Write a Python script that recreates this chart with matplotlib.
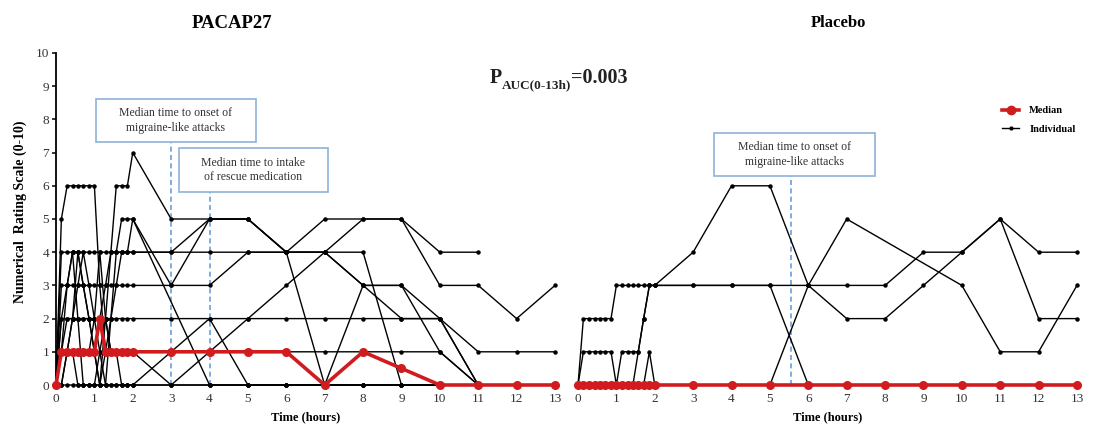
import matplotlib
matplotlib.use('Agg')
import matplotlib.pyplot as plt
from matplotlib.patches import Rectangle
from matplotlib.lines import Line2D

plt.rcParams['font.family'] = ['Liberation Serif', 'DejaVu Serif']

# sampling times (hours): dense during the first 2 h, then hourly
hours = [0, 0.14, 0.29, 0.43, 0.57, 0.71, 0.86, 1, 1.14, 1.29, 1.43, 1.57, 1.71, 1.86,
         2, 3, 4, 5, 6, 7, 8, 9, 10, 11, 12, 13]

# PACAP27 headache scores (None = not recorded)
pacap_median = [0, 1, 1, 1, 1, 1, 1, 1, 2, 1, 1, 1, 1, 1, 1, 1, 1, 1, 1, 0, 1, 0.5, 0, 0, 0, 0]
pacap_a = [0, 0, 0, 0, 0, 0, 0, 0, 0, 2, 4, 6, 6, 6, 7, 5, 5, 5, 4, 0, 3, 3, 1, 0, 0, 0]
pacap_b = [0, 2, 3, 4, 4, 3, 2, 1, 0, 1, 2, 3, 4, 4, 5, 3, 5, 5, 4, 5, 5, 5, 4, 4, None, None]
pacap_c = [0, 1, 3, 4, 4, 4, 4, 4, 4, 4, 4, 4, 4, 4, 4, 4, 4, 4, 4, 4, 4, 0, 0, 0, 0, 0]
pacap_d = [0, 3, 3, 3, 3, 3, 3, 3, 3, 3, 3, 3, 3, 3, 3, 3, 3, 4, 4, 4, 3, 2, 2, 1, 1, 1]
pacap_e = [0, 1, 2, 2, 2, 2, 2, 2, 2, 3, 4, 4, 5, 5, 5, None, 0, 0, 0, 0, 0, 0, 0, 0, 0, 0]
pacap_f = [0, 1, 1, 1, 1, 1, 1, 2, 4, 2, 1, 1, 1, 1, 1, 0, 1, 2, 3, 4, 5, 5, 3, 3, 2, 3]
pacap_g = [0, 0, 1, 2, 3, 4, 3, 2, 1, 0, 0, 0, 0, 0, 0, 1, 2, 2, 2, 2, 2, 2, 2, 0, None, None]
pacap_h = [0, 2, 2, 2, 2, 2, 2, 2, 2, 2, 2, 2, 2, 2, 2, 2, 2, 0, 0, 0, 0, 0, 0, 0, 0, 0]
pacap_j = [0, 0, 1, 2, 4, 3, 2, 1, 0, 0, 2, 4, 4, 4, 4, 4, 5, 5, 4, 4, 3, 3, 2, 0, 0, 0]
pacap_k = [0, 5, 6, 6, 6, 6, 6, 6, 3, 1, 1, 1, 1, 1, 1, 1, 1, 1, 1, 1, 1, 1, 1, 0, 0, 0]
pacap_l = [0, 1, 1, 1, 0, 0, 0, 0, 1, 2, 1, 1, 0, 0, 0, 0, 0, 0, 0, 0, 0, 0, 0, 0, 0, 0]
pacap_n = [0, 4, 4, 4, 2, 0, 0, 0, 0, 0, 0, 0, 0, 0, 0, 0, 0, 0, 0, 0, 0, 0, 0, 0, 0, 0]
pacap_individuals = [pacap_a, pacap_b, pacap_c, pacap_d, pacap_e, pacap_f,
                     pacap_g, pacap_h, pacap_j, pacap_k, pacap_l, pacap_n]

# Placebo headache scores
placebo_median = [0, 0, 0, 0, 0, 0, 0, 0, 0, 0, 0, 0, 0, 0, 0, 0, 0, 0, 0, 0, 0, 0, 0, 0, 0, 0]
placebo_a = [0, 2, 2, 2, 2, 2, 2, 3, 3, 3, 3, 3, 3, 3, 3, 4, 6, 6, 3, 2, 2, 3, 4, 5, 2, 2]
placebo_b = [0, 1, 1, 1, 1, 1, 1, 0, 1, 1, 1, 1, 2, 3, 3, 3, 3, 3, 0, 0, 0, 0, 0, 0, 0, 0]
placebo_c = [0, 0, 0, 0, 0, 0, 0, 0, 0, 0, 0, 1, 2, 3, 3, 3, 3, 3, 3, 3, 3, 4, 4, 5, 4, 4]
placebo_d = [0, 0, 0, 0, 0, 0, 0, 0, 0, 0, 0, 0, 0, 0, 0, 0, 0, 0, 3, 5, None, None, 3, 1, 1, 3]
placebo_e = [0, 0, 0, 0, 0, 0, 0, 0, 0, 0, 0, 0, 0, 1, 0, 0, 0, 0, 0, 0, 0, 0, 0, 0, 0, 0]
placebo_individuals = [placebo_a, placebo_b, placebo_c, placebo_d, placebo_e]

RED = '#d01c1f'
BLUE_LINE = '#6b9fd8'
BOX_EDGE = '#8fb0da'


def draw(ax, values, **kw):
    pts = [(t, v) for t, v in zip(hours, values) if v is not None]
    xs, ys = zip(*pts)
    ax.plot(xs, ys, clip_on=False, **kw)


def note(ax, x0, x1, y0, y1, text):
    ax.add_patch(Rectangle((x0, y0), x1 - x0, y1 - y0, facecolor='white',
                           edgecolor=BOX_EDGE, lw=1.2, zorder=5, clip_on=False))
    ax.text((x0 + x1) / 2, (y0 + y1) / 2, text, ha='center', va='center',
            fontsize=8.5, color='#333333', linespacing=1.25, zorder=6)


fig = plt.figure(figsize=(10.96, 4.26), dpi=100)
W, H = 1096, 426
ax1 = fig.add_axes([56 / W, (H - 385) / H, 499 / W, 332 / H])
ax2 = fig.add_axes([578 / W, (H - 385) / H, 499 / W, 332 / H])

for ax, indiv, med in [(ax1, pacap_individuals, pacap_median),
                       (ax2, placebo_individuals, placebo_median)]:
    for s in indiv:
        draw(ax, s, color='black', lw=1.0, marker='o', ms=2.2, zorder=3)
    draw(ax, med, color=RED, lw=2.6, marker='o', ms=5.5, zorder=4)
    ax.set_xlim(0, 13)
    ax.set_ylim(0, 10)
    ax.set_xticks(range(0, 14))
    ax.tick_params(axis='x', length=0, pad=6, labelsize=9.5, labelcolor='#333333')
    for sp in ['top', 'right', 'bottom']:
        ax.spines[sp].set_visible(False)
    ax.set_xlabel('Time (hours)', fontsize=9, fontweight='bold', labelpad=4)

ax1.spines['left'].set_linewidth(1.3)
ax1.set_yticks(range(0, 11))
ax1.tick_params(axis='y', length=3, width=1.1, pad=2, labelsize=9.5, labelcolor='#333333')
ax2.spines['left'].set_visible(False)
ax2.set_yticks([])

# median time markers
ax1.plot([3, 3], [0, 7.32], color=BLUE_LINE, lw=1.2, ls=(0, (3, 2)), zorder=2)
ax1.plot([4, 4], [0, 5.81], color=BLUE_LINE, lw=1.2, ls=(0, (3, 2)), zorder=2)
ax2.plot([5.55, 5.55], [0, 6.3], color=BLUE_LINE, lw=1.2, ls=(0, (3, 2)), zorder=2)
note(ax1, 1.04, 5.21, 7.32, 8.61, 'Median time to onset of\nmigraine-like attacks')
note(ax1, 3.2, 7.08, 5.81, 7.14, 'Median time to intake\nof rescue medication')
note(ax2, 3.54, 7.73, 6.3, 7.59, 'Median time to onset of\nmigraine-like attacks')

fig.text(20 / W, 1 - 212 / H, 'Numerical  Rating Scale (0-10)', rotation=90,
         ha='center', va='center', fontsize=10, fontweight='bold')
fig.text(232 / W, 1 - 23 / H, 'PACAP27', ha='center', va='center',
         fontsize=13.5, fontweight='bold')
fig.text(838 / W, 1 - 23 / H, 'Placebo', ha='center', va='center',
         fontsize=12, fontweight='bold')

# P value with subscript, built from consecutive text pieces
renderer = fig.canvas.get_renderer()
x_px = 490
pieces = [('P', 14.5, 0), ('AUC(0-13h)', 9.5, -5), ('=0.003', 14.5, 0)]
for txt, size, dy in pieces:
    t = fig.text(x_px / W, (H - 83 + dy) / H, txt, ha='left', va='baseline',
                 fontsize=size, fontweight='bold', color='#222222')
    x_px = t.get_window_extent(renderer).x1 - 0.5

handles = [Line2D([], [], color=RED, lw=2.6, marker='o', ms=6),
           Line2D([], [], color='black', lw=1.0, marker='o', ms=2)]
fig.legend(handles, ['Median', 'Individual'], loc='upper left',
           bbox_to_anchor=(998 / W, 1 - 102 / H), frameon=False,
           prop={'size': 7.5, 'weight': 'bold'}, handlelength=1.6,
           handletextpad=1.0, labelspacing=0.9, borderaxespad=0)

fig.savefig('out.png', dpi=100)
